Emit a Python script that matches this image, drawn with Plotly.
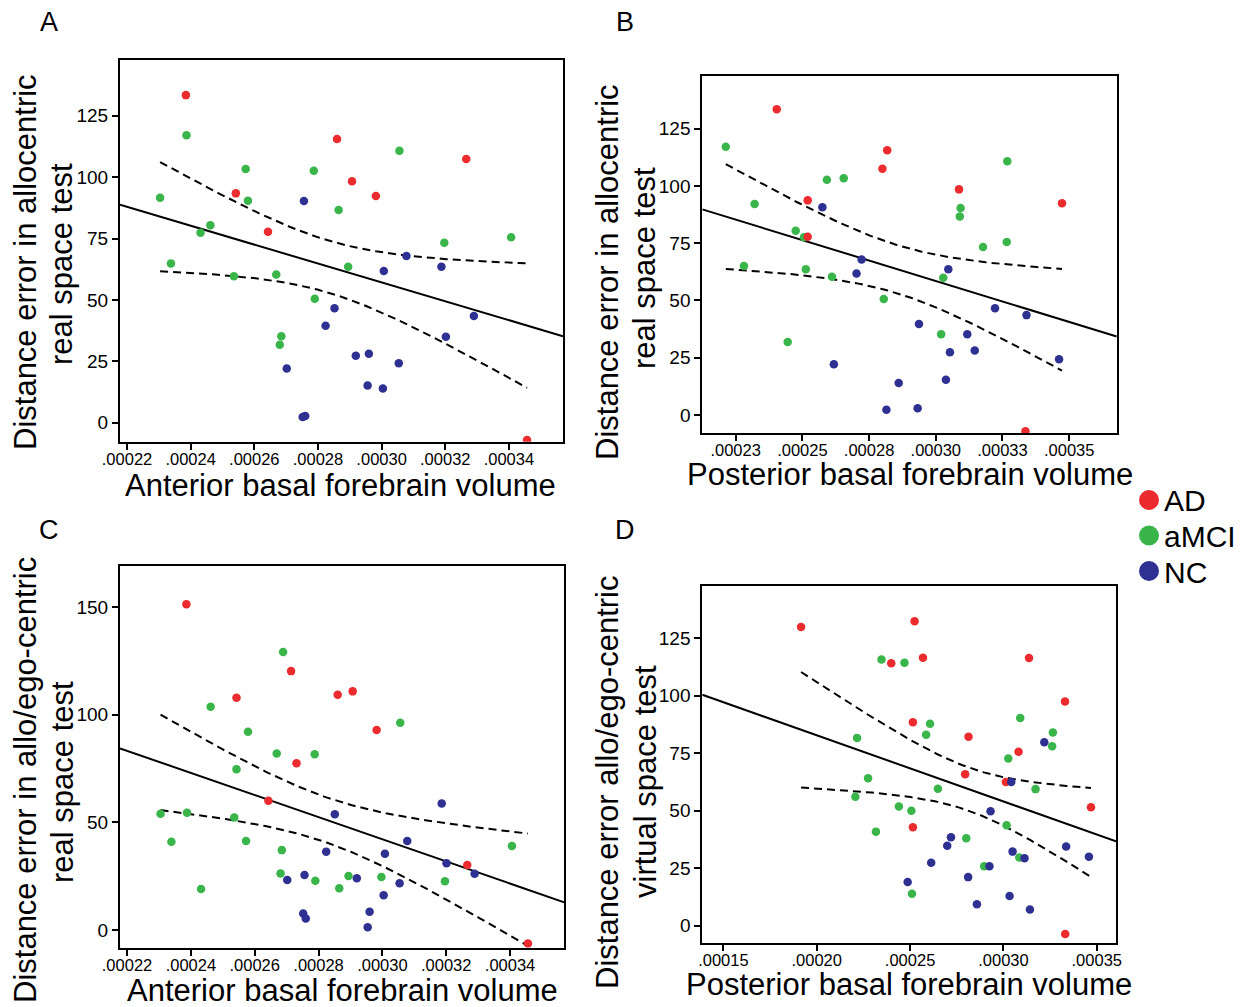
import numpy as np
import plotly.graph_objects as go

W, H = 1251, 1007

# ---- Panel A: anterior BF volume vs allocentric error (real space) ----
a_ad_x = [0.0002385, 0.0002542, 0.0002860, 0.0002643, 0.0003266, 0.0002907, 0.0002982, 0.0003457]
a_ad_y = [133.4, 93.4, 115.5, 77.8, 107.4, 98.3, 92.3, -7.0]
a_mci_x = [0.0002387, 0.0002573, 0.0002580, 0.0002304, 0.0002787, 0.0002865, 0.0002462, 0.0002431, 0.0003056,
           0.0003197, 0.0003407, 0.0002895, 0.0002338, 0.0002536, 0.0002669, 0.0002790, 0.0002685, 0.0002680]
a_mci_y = [117.1, 103.3, 90.4, 91.6, 102.6, 86.6, 80.4, 77.4, 110.8,
           73.3, 75.5, 63.5, 64.9, 59.7, 60.4, 50.5, 35.2, 31.8]
a_nc_x = [0.0002756, 0.0003078, 0.0003188, 0.0003007, 0.0002852, 0.0003290, 0.0003202, 0.0002919,
          0.0002960, 0.0003054, 0.0002956, 0.0003004, 0.0002824, 0.0002702, 0.0002752, 0.0002760]
a_nc_y = [90.3, 67.9, 63.5, 61.8, 46.6, 43.5, 35.0, 27.3,
          28.1, 24.2, 15.2, 14.0, 39.5, 22.1, 2.4, 2.8]

# ---- Panel B: posterior BF volume vs allocentric error (real space) ----
b_ad_x = [0.0002404, 0.0002818, 0.0002800, 0.0002520, 0.0002520, 0.0003087, 0.0003473, 0.0003336]
b_ad_y = [133.5, 115.6, 107.5, 93.7, 77.8, 98.5, 92.4, -7.1]
b_mci_x = [0.0002213, 0.0002592, 0.0002655, 0.0002321, 0.0002475, 0.0002506, 0.0002281, 0.0002513, 0.0003268,
           0.0003093, 0.0003090, 0.0003177, 0.0003266, 0.0002611, 0.0002805, 0.0002445, 0.0003028, 0.0003020]
b_mci_y = [117.1, 102.7, 103.4, 92.1, 80.4, 77.6, 65.0, 63.6, 110.8,
           90.4, 86.7, 73.3, 75.5, 60.4, 50.6, 31.9, 59.9, 35.3]
b_nc_x = [0.0002575, 0.0002722, 0.0003047, 0.0002703, 0.0002618, 0.0002861, 0.0002815, 0.0003222,
          0.0003340, 0.0002937, 0.0003118, 0.0003053, 0.0003146, 0.0003462, 0.0003038, 0.0002932]
b_nc_y = [90.7, 67.9, 63.6, 61.8, 22.1, 14.0, 2.3, 46.6,
          43.6, 39.7, 35.2, 27.4, 28.2, 24.3, 15.4, 2.9]

# ---- Panel C: anterior BF volume vs allo/ego-centric error (real space) ----
c_ad_x = [0.0002386, 0.0002714, 0.0002860, 0.0002543, 0.0002731, 0.0002643, 0.0002907, 0.0002982, 0.0003266, 0.0003456]
c_ad_y = [151.3, 120.2, 109.2, 107.8, 77.4, 60.0, 110.8, 92.9, 30.2, -6.2]
c_mci_x = [0.0002689, 0.0002462, 0.0002579, 0.0002669, 0.0002788, 0.0002543, 0.0003056, 0.0002305, 0.0002388,
           0.0002536, 0.0002339, 0.0002573, 0.0003406, 0.0002685, 0.0002681, 0.0002894, 0.0002997, 0.0002790,
           0.0003196, 0.0002865, 0.0002432]
c_mci_y = [129.1, 103.7, 92.1, 82.0, 81.6, 74.7, 96.2, 54.0, 54.5,
           52.3, 41.0, 41.3, 39.0, 37.1, 26.3, 25.1, 24.6, 22.9,
           22.6, 19.4, 19.0]
c_nc_x = [0.0003186, 0.0002851, 0.0003078, 0.0002824, 0.0003008, 0.0003201, 0.0003289, 0.0002756,
          0.0002920, 0.0002702, 0.0003054, 0.0003004, 0.0002960, 0.0002752, 0.0002760, 0.0002954]
c_nc_y = [58.8, 53.7, 41.3, 36.4, 35.4, 31.0, 26.1, 25.5,
          24.0, 23.2, 21.7, 16.2, 8.5, 7.7, 5.4, 1.3]

# ---- Panel D: posterior BF volume vs allo/ego-centric error (virtual space) ----
d_ad_x = [0.0001916, 0.0002524, 0.0002399, 0.0002569, 0.0003137, 0.0003330, 0.0002515,
          0.0002813, 0.0003081, 0.0002795, 0.0003013, 0.0003469, 0.0002515, 0.0003331]
d_ad_y = [130.0, 132.5, 114.2, 116.6, 116.5, 97.5, 88.5,
          82.2, 75.7, 65.9, 62.5, 51.5, 42.8, -3.7]
d_mci_x = [0.0002347, 0.0002470, 0.0002607, 0.0002586, 0.0002216, 0.0003090, 0.0003265, 0.0003261,
           0.0003026, 0.0002275, 0.0002649, 0.0003172, 0.0002207, 0.0002440, 0.0002507, 0.0002317,
           0.0003017, 0.0002801, 0.0003085, 0.0002897, 0.0002510]
d_mci_y = [115.8, 114.4, 87.8, 83.1, 81.7, 90.4, 84.0, 78.1,
           72.7, 64.1, 59.6, 59.4, 56.1, 51.8, 50.0, 40.9,
           43.7, 38.0, 29.6, 25.8, 13.9]
d_nc_x = [0.0003219, 0.0003042, 0.0002931, 0.0002719, 0.0002699, 0.0003049, 0.0003113, 0.0003336,
          0.0003458, 0.0002613, 0.0002925, 0.0002811, 0.0002487, 0.0003033, 0.0002858, 0.0003142]
d_nc_y = [79.8, 62.5, 49.8, 38.5, 34.8, 32.2, 29.3, 34.4,
          30.0, 27.4, 25.8, 21.1, 19.0, 12.9, 9.3, 7.0]

# ---- tick labels ----
ant_tickvals = [0.00022, 0.00024, 0.00026, 0.00028, 0.00030, 0.00032, 0.00034]
ant_ticktext = [".00022", ".00024", ".00026", ".00028", ".00030", ".00032", ".00034"]
postB_tickvals = [0.000225, 0.00025, 0.000275, 0.00030, 0.000325, 0.00035]
postB_ticktext = [".00023", ".00025", ".00028", ".00030", ".00033", ".00035"]
postD_tickvals = [0.00015, 0.00020, 0.00025, 0.00030, 0.00035]
postD_ticktext = [".00015", ".00020", ".00025", ".00030", ".00035"]
y_ticks_125 = [0, 25, 50, 75, 100, 125]
y_ticks_150 = [0, 50, 100, 150]

group_names = ["AD", "aMCI", "NC"]
RED, GREEN, NAVY = "#EC2B2E", "#39B54A", "#2E3192"
group_colors = {"AD": RED, "aMCI": GREEN, "NC": NAVY}
FONT = "Liberation Sans, Arial, Helvetica, sans-serif"


def t_crit(df, z=1.959964):
    # two-sided 95% Student t quantile (Cornish-Fisher expansion)
    return (z + (z**3 + z) / (4 * df) + (5 * z**5 + 16 * z**3 + 3 * z) / (96 * df**2)
            + (3 * z**7 + 19 * z**5 + 17 * z**3 - 15 * z) / (384 * df**3))


def linear_fit(x, y):
    x = np.asarray(x, float)
    y = np.asarray(y, float)
    n = len(x)
    slope, icpt = np.polyfit(x, y, 1)
    resid = y - (icpt + slope * x)
    s = np.sqrt(np.sum(resid ** 2) / (n - 2))
    sxx = np.sum((x - x.mean()) ** 2)
    t = t_crit(n - 2)

    def band(g):
        yh = icpt + slope * g
        half = t * s * np.sqrt(1.0 / n + (g - x.mean()) ** 2 / sxx)
        return yh, yh - half, yh + half

    return slope, icpt, x.min(), x.max(), band


def paper_x(px):
    return px / W


def paper_y(py):
    return 1 - py / H


# groups listed in drawing order: aMCI underneath, then AD, NC on top
panels = [
    dict(groups=[("aMCI", a_mci_x, a_mci_y), ("AD", a_ad_x, a_ad_y), ("NC", a_nc_x, a_nc_y)],
         box=(120, 563, 60, 441.7), xr=[0.0002178, 0.000357], yr=[-7.7, 147.7],
         xtv=ant_tickvals, xtt=ant_ticktext, ytv=y_ticks_125),
    dict(groups=[("aMCI", b_mci_x, b_mci_y), ("AD", b_ad_x, b_ad_y), ("NC", b_nc_x, b_nc_y)],
         box=(702.3, 1116.7, 76, 433.3), xr=[0.0002125, 0.0003678], yr=[-8.0, 148.0],
         xtv=postB_tickvals, xtt=postB_ticktext, ytv=y_ticks_125),
    dict(groups=[("aMCI", c_mci_x, c_mci_y), ("AD", c_ad_x, c_ad_y), ("NC", c_nc_x, c_nc_y)],
         box=(120, 564.3, 566, 947.7), xr=[0.0002178, 0.000357], yr=[-8.2, 169.0],
         xtv=ant_tickvals, xtt=ant_ticktext, ytv=y_ticks_150),
    dict(groups=[("aMCI", d_mci_x, d_mci_y), ("AD", d_ad_x, d_ad_y), ("NC", d_nc_x, d_nc_y)],
         box=(702.3, 1116.0, 586, 943.3), xr=[0.0001387, 0.0003603], yr=[-7.7, 147.8],
         xtv=postD_tickvals, xtt=postD_ticktext, ytv=y_ticks_125),
]

fig = go.Figure()
layout = dict(
    template="none",
    width=W, height=H, margin=dict(l=0, r=0, t=0, b=0, autoexpand=False),
    paper_bgcolor="white", plot_bgcolor="white",
    font=dict(family=FONT, color="black"),
    showlegend=False,
)

for i, p in enumerate(panels):
    n = "" if i == 0 else str(i + 1)
    xa, ya = "x" + n, "y" + n
    all_x = sum([list(g[1]) for g in p["groups"]], [])
    all_y = sum([list(g[2]) for g in p["groups"]], [])
    slope, icpt, xmin, xmax, band = linear_fit(all_x, all_y)

    # fitted line across the full axis
    xs = np.array(p["xr"])
    fig.add_trace(go.Scatter(x=xs, y=icpt + slope * xs, mode="lines", xaxis=xa, yaxis=ya,
                             line=dict(color="black", width=2), hoverinfo="skip"))
    # 95% confidence band of the mean, over the observed range
    g = np.linspace(xmin, xmax, 120)
    _, lo, hi = band(g)
    for curve in (lo, hi):
        fig.add_trace(go.Scatter(x=g, y=curve, mode="lines", xaxis=xa, yaxis=ya,
                                 line=dict(color="black", width=2, dash="8px,5px"),
                                 hoverinfo="skip"))
    # observations by diagnostic group
    for nm, gx, gy in p["groups"]:
        fig.add_trace(go.Scatter(x=gx, y=gy, mode="markers", xaxis=xa, yaxis=ya, name=nm,
                                 marker=dict(color=group_colors[nm], size=8.5, line=dict(width=0))))

    x0, x1, y0, y1 = p["box"]
    axis_common = dict(showline=True, mirror=True, linecolor="black", linewidth=2,
                       ticks="outside", ticklen=6, tickwidth=2, tickcolor="black",
                       showgrid=False, zeroline=False, automargin=False)
    layout["xaxis" + n] = dict(axis_common, domain=[paper_x(x0), paper_x(x1)], range=p["xr"],
                               anchor=ya, tickmode="array", tickvals=p["xtv"], ticktext=p["xtt"],
                               tickfont=dict(size=16.5), ticklabelstandoff=-5)
    layout["yaxis" + n] = dict(axis_common, domain=[paper_y(y1), paper_y(y0)], range=p["yr"],
                               anchor=xa, tickmode="array", tickvals=p["ytv"],
                               tickfont=dict(size=19))

annotations = []
shapes = []


def label(text, px, py, size, angle=0, xanchor="center"):
    annotations.append(dict(text=text, x=paper_x(px), y=paper_y(py), xref="paper", yref="paper",
                            xanchor=xanchor, yanchor="middle", showarrow=False, textangle=angle,
                            font=dict(size=size, family=FONT, color="black")))


# panel letters
label("A", 49, 22, 27)
label("B", 625, 22, 27)
label("C", 49, 530, 27)
label("D", 625, 530, 27)

# y-axis titles (two lines each)
label("Distance error in allocentric", 25, 262, 31, -90)
label("real space test", 62, 264, 31, -90)
label("Distance error in allocentric", 607, 272, 31, -90)
label("real space test", 645, 268, 31, -90)
label("Distance error in allo/ego-centric", 25, 780, 31, -90)
label("real space test", 62, 782, 31, -90)
label("Distance error allo/ego-centric", 607, 782, 31, -90)
label("virtual space test", 645, 782, 31, -90)

# x-axis titles
label("Anterior basal forebrain volume", 340, 485, 31)
label("Posterior basal forebrain volume", 910, 474, 31)
label("Anterior basal forebrain volume", 342, 990, 31)
label("Posterior basal forebrain volume", 909, 984, 31)

# group key
for k, nm in enumerate(group_names):
    cy = 500 + 35.5 * k
    shapes.append(dict(type="circle", xref="paper", yref="paper",
                       x0=paper_x(1139), x1=paper_x(1159), y0=paper_y(cy + 10), y1=paper_y(cy - 10),
                       fillcolor=group_colors[nm], line=dict(width=0)))
    label(nm, 1162, cy + 1, 30, xanchor="left")

layout["annotations"] = annotations
layout["shapes"] = shapes
fig.update_layout(**layout)
fig.write_html("out.html")
